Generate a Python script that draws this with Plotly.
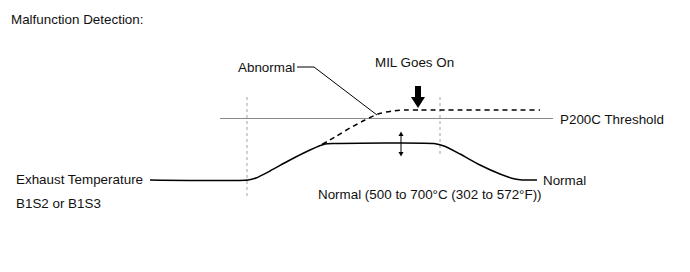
import plotly.graph_objects as go

# Schematic diagram values (diagram units: x = time, y = screen-like temperature axis, inverted)
normal_x = [150, 248, 256, 270, 290, 310, 325, 335, 434, 444, 460, 480, 500, 515, 522, 537]
normal_y = [180, 180, 178, 171, 160, 150, 144, 143.5, 143.5, 146, 154, 165, 174, 179, 180, 180]
abnormal_x = [322, 335, 350, 365, 378, 392, 405, 420, 540]
abnormal_y = [144.5, 137, 128, 120, 114, 111, 110, 110, 110]
threshold_x = [220, 553]
threshold_y = 118.5
marker_times = [247, 440]
marker_spans = [(97, 197), (97, 156)]

TXT = dict(family="Liberation Sans, Arial, sans-serif", size=13.4, color="#111")

fig = go.Figure()
fig.add_trace(go.Scatter(x=threshold_x, y=[threshold_y] * 2, mode="lines",
                         line=dict(color="#8a8a8a", width=1), hoverinfo="skip"))
for t, (y0, y1) in zip(marker_times, marker_spans):
    fig.add_trace(go.Scatter(x=[t, t], y=[y0, y1], mode="lines",
                             line=dict(color="#8a8a8a", width=0.8, dash="3px,3px"), hoverinfo="skip"))
fig.add_trace(go.Scatter(x=normal_x, y=normal_y, mode="lines",
                         line=dict(color="black", width=1.5, shape="spline", smoothing=0.6), hoverinfo="skip"))
fig.add_trace(go.Scatter(x=abnormal_x, y=abnormal_y, mode="lines",
                         line=dict(color="black", width=1.5, dash="5px,4px", shape="spline", smoothing=0.6),
                         hoverinfo="skip"))
# Abnormal leader line
fig.add_trace(go.Scatter(x=[297, 314, 377], y=[67, 67, 115], mode="lines",
                         line=dict(color="black", width=1), hoverinfo="skip"))
# Double-headed arrow
fig.add_trace(go.Scatter(x=[401, 401], y=[134, 154], mode="lines",
                         line=dict(color="black", width=1), hoverinfo="skip"))
fig.add_shape(type="path", path="M 398.5 136 L 401 131.5 L 403.5 136 Z",
              fillcolor="black", line=dict(width=0))
fig.add_shape(type="path", path="M 398.5 152 L 401 156.5 L 403.5 152 Z",
              fillcolor="black", line=dict(width=0))
# MIL down arrow
fig.add_shape(type="path",
              path="M 415 86 L 421 86 L 421 97 L 425 97 L 418 108 L 411 97 L 415 97 Z",
              fillcolor="black", line=dict(width=0))

texts = [
    ("Malfunction Detection:", 10, 19, "left"),
    ("Abnormal", 296, 67, "right"),
    ("MIL Goes On", 374, 62, "left"),
    ("P200C Threshold", 559, 119.5, "left"),
    ("Exhaust Temperature", 15, 179.5, "left"),
    ("B1S2 or B1S3", 15, 203, "left"),
    ("Normal", 542, 180.5, "left"),
    ("Normal (500 to 700\u00b0C (302 to 572\u00b0F))", 317, 194, "left"),
]
for t, x, y, xa in texts:
    fig.add_annotation(x=x, y=y, text=t, showarrow=False, xanchor=xa, yanchor="middle",
                       font=TXT, borderpad=0)

fig.update_layout(
    width=690, height=272, margin=dict(l=0, r=0, t=0, b=0),
    paper_bgcolor="white", plot_bgcolor="white", showlegend=False,
    xaxis=dict(range=[0, 690], visible=False, fixedrange=True),
    yaxis=dict(range=[272, 0], visible=False, fixedrange=True),
)
fig.write_html("out.html", config={"displayModeBar": False})
